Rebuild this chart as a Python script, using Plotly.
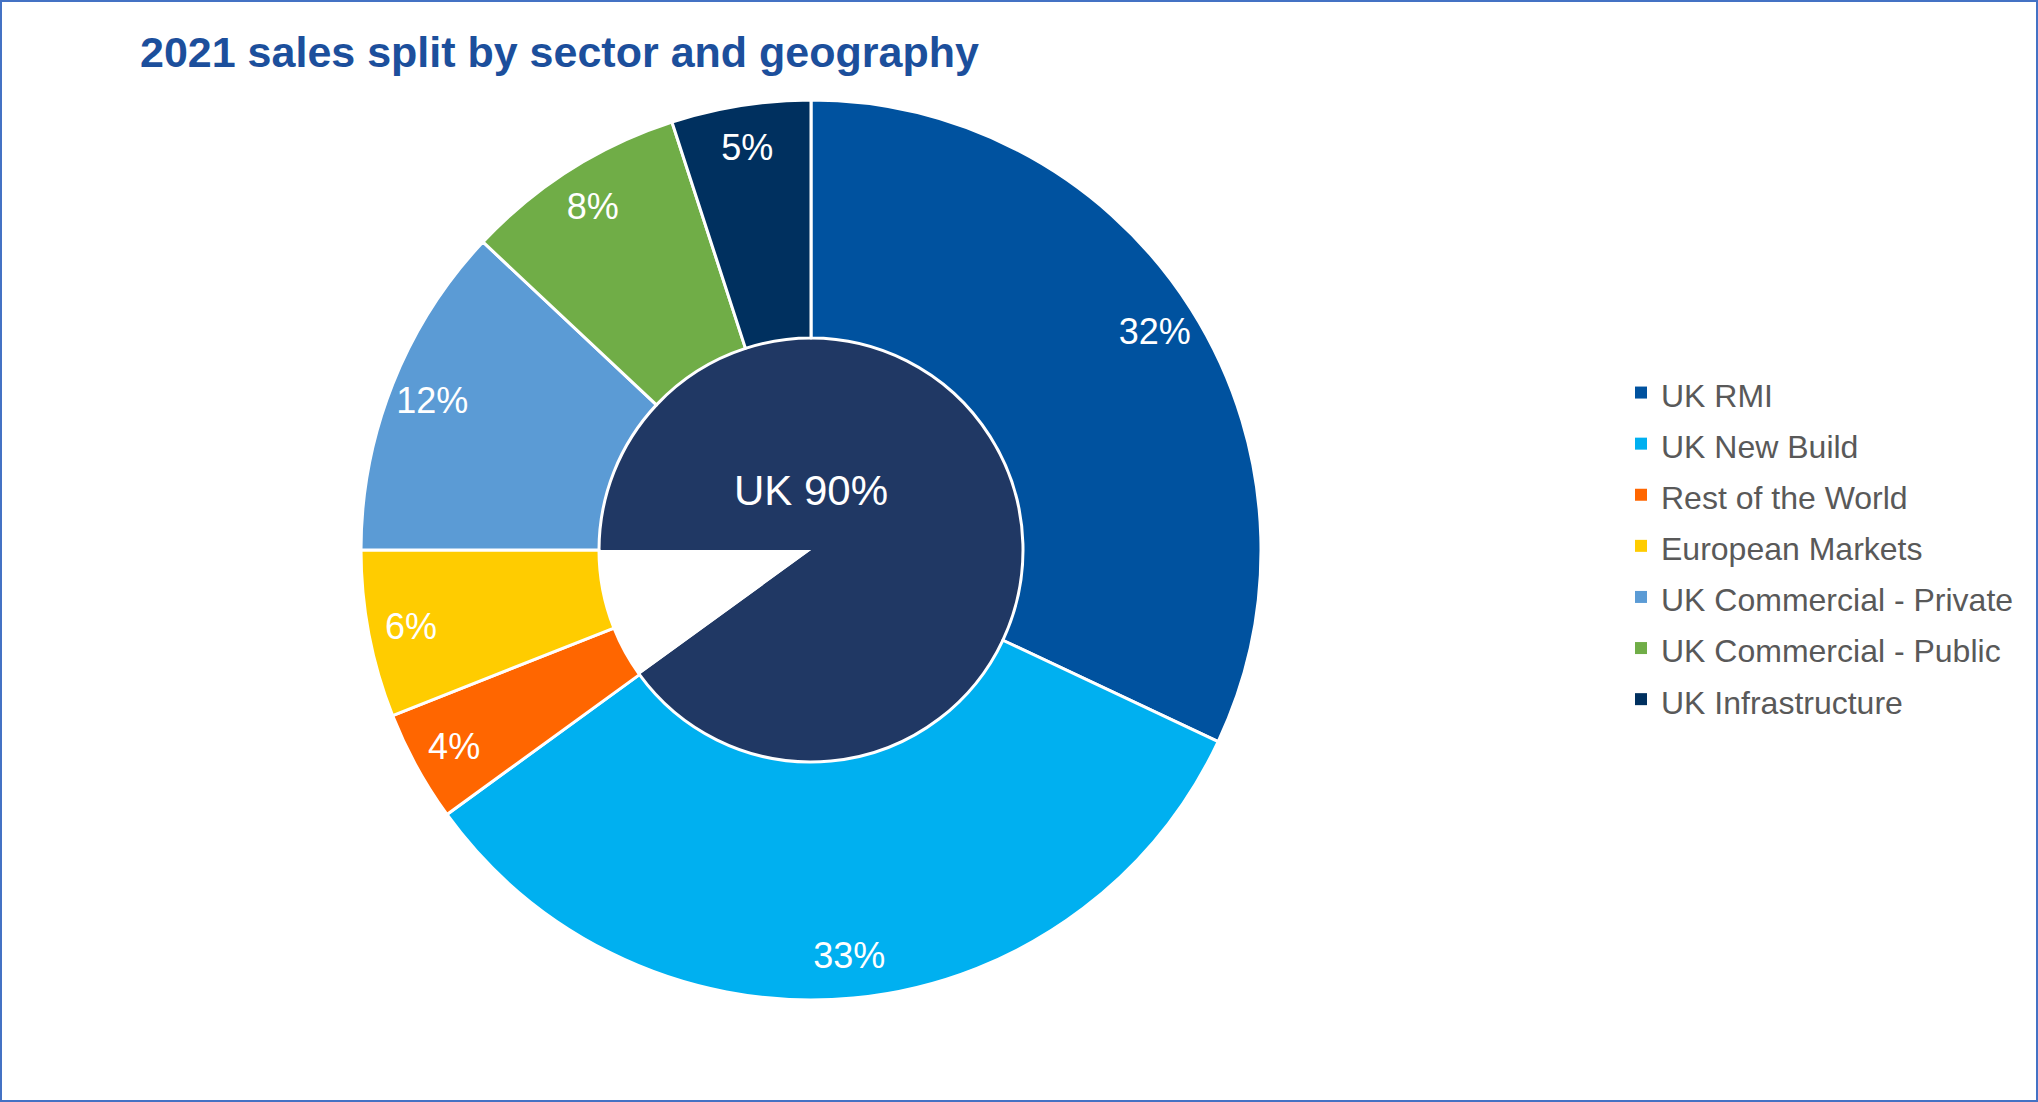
import plotly.graph_objects as go

# Sales split by sector (outer ring), clockwise from 12 o'clock
sectors = [
    "UK RMI",
    "UK New Build",
    "Rest of the World",
    "European Markets",
    "UK Commercial - Private",
    "UK Commercial - Public",
    "UK Infrastructure",
]
sector_share = [32, 33, 4, 6, 12, 8, 5]
sector_colors = ["#00529F", "#00B0F0", "#FF6600", "#FFCC00", "#5B9BD5", "#70AD47", "#00305F"]

# Geography split (inner pie)
regions = ["UK", "Outside UK"]
region_share = [90, 10]
region_colors = ["#203864", "#FFFFFF"]

W, H = 2038, 1102
FONT = "Liberation Sans, Arial, sans-serif"

# pie geometry in pixels
cx, cy = 811, 550
r_outer = 450
r_inner = 212


def domain(r):
    return dict(
        x=[(cx - r) / W, (cx + r) / W],
        y=[(H - cy - r) / H, (H - cy + r) / H],
    )


fig = go.Figure()

# inner geography pie, starting at 9 o'clock and running clockwise
fig.add_trace(go.Pie(
    labels=regions,
    values=region_share,
    marker=dict(colors=region_colors, line=dict(width=0)),
    domain=domain(r_inner),
    direction="clockwise",
    rotation=270,
    sort=False,
    textinfo="none",
    showlegend=False,
    hoverinfo="label+percent",
))

# base sector ring without outlines; it carries the legend so the
# legend swatches are solid squares
legend_labels = [f"<span style='font-size:32px'>{s}</span>" for s in sectors]
fig.add_trace(go.Pie(
    labels=legend_labels,
    values=sector_share,
    marker=dict(colors=sector_colors, line=dict(width=0)),
    domain=domain(r_outer),
    hole=r_inner / r_outer,
    direction="clockwise",
    rotation=0,
    sort=False,
    textinfo="none",
    hoverinfo="skip",
))

# sector ring with white separators
fig.add_trace(go.Pie(
    labels=sectors,
    values=sector_share,
    marker=dict(colors=sector_colors, line=dict(color="#FFFFFF", width=3)),
    domain=domain(r_outer),
    hole=r_inner / r_outer,
    direction="clockwise",
    rotation=0,
    sort=False,
    textinfo="none",
    showlegend=False,
    hoverinfo="label+percent",
))

# percentage labels, set in a transparent band near the outer edge
fig.add_trace(go.Pie(
    labels=sectors,
    values=sector_share,
    text=[f"{v}%" for v in sector_share],
    texttemplate="%{text}",
    marker=dict(colors=["rgba(0,0,0,0)"] * len(sectors), line=dict(width=0)),
    domain=domain(r_outer),
    hole=0.81,
    direction="clockwise",
    rotation=0,
    sort=False,
    textposition="inside",
    insidetextorientation="horizontal",
    textfont=dict(family=FONT, size=36, color="#FFFFFF"),
    showlegend=False,
    hoverinfo="skip",
))

uk_share = region_share[regions.index("UK")]
fig.add_annotation(
    text=f"UK {uk_share}%",
    x=cx / W, y=(H - cy) / H, xref="paper", yref="paper",
    yshift=60, showarrow=False,
    font=dict(family=FONT, size=42, color="#FFFFFF"),
)

# frame around the whole figure
fig.add_shape(
    type="rect", xref="paper", yref="paper", x0=0, x1=1, y0=0, y1=1,
    line=dict(color="#4472C4", width=4), fillcolor="rgba(0,0,0,0)",
)

fig.update_layout(
    width=W, height=H,
    margin=dict(l=0, r=0, t=0, b=0),
    paper_bgcolor="#FFFFFF",
    plot_bgcolor="#FFFFFF",
    font=dict(family=FONT),
    title=dict(
        text="<b>2021 sales split by sector and geography</b>",
        x=140 / W, xanchor="left", xref="container",
        y=1 - 52 / H, yanchor="middle", yref="container",
        font=dict(family=FONT, size=43, color="#1C4F9C"),
    ),
    legend=dict(
        x=1621 / W, xanchor="left",
        y=(H - 546) / H, yanchor="middle",
        font=dict(family=FONT, size=37, color="#595959"),
        bgcolor="rgba(0,0,0,0)",
    ),
    uniformtext=dict(minsize=36, mode="show"),
)

fig.write_html("out.html")
